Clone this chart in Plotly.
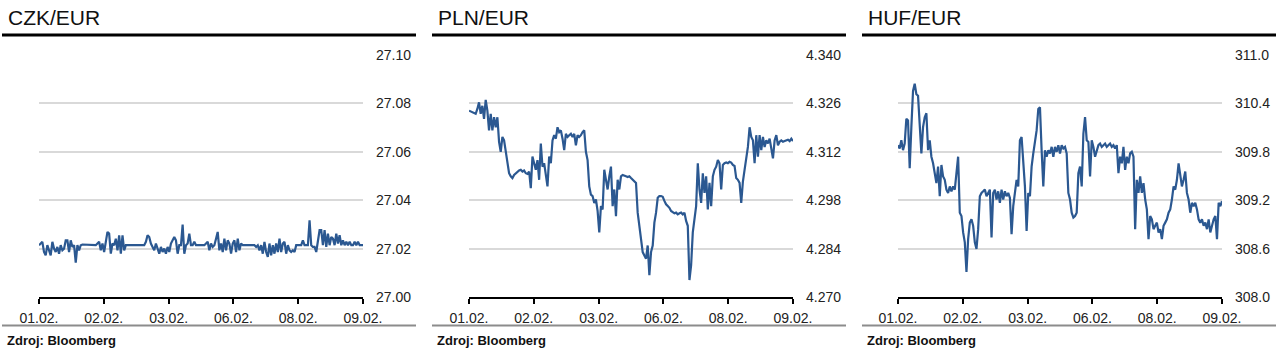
import numpy as np
import plotly.graph_objects as go

# ---------------- data ----------------
date_labels = ["01.02.", "02.02.", "03.02.", "06.02.", "08.02.", "09.02."]

czk_ticks = [27.00, 27.02, 27.04, 27.06, 27.08, 27.10]
czk_ticktext = ["27.00", "27.02", "27.04", "27.06", "27.08", "27.10"]
pln_ticks = [4.270, 4.284, 4.298, 4.312, 4.326, 4.340]
pln_ticktext = ["4.270", "4.284", "4.298", "4.312", "4.326", "4.340"]
huf_ticks = [308.0, 308.6, 309.2, 309.8, 310.4, 311.0]
huf_ticktext = ["308.0", "308.6", "309.2", "309.8", "310.4", "311.0"]

czk_eur = [
    27.0214, 27.0221, 27.0228, 27.0186, 27.0172, 27.0214, 27.0193, 27.0172, 27.0228, 27.0200,
    27.0186, 27.0207, 27.0179, 27.0214, 27.0193, 27.0200, 27.0234, 27.0234, 27.0186, 27.0234,
    27.0207, 27.0214, 27.0142, 27.0214, 27.0193, 27.0214, 27.0217, 27.0217, 27.0217, 27.0217,
    27.0214, 27.0217, 27.0217, 27.0217, 27.0214, 27.0221, 27.0228, 27.0193, 27.0221, 27.0186,
    27.0234, 27.0269, 27.0262, 27.0179, 27.0221, 27.0214, 27.0241, 27.0193, 27.0255, 27.0179,
    27.0255, 27.0193, 27.0214, 27.0214, 27.0217, 27.0214, 27.0217, 27.0214, 27.0214, 27.0214,
    27.0214, 27.0217, 27.0214, 27.0214, 27.0228, 27.0255, 27.0248, 27.0221, 27.0207, 27.0193,
    27.0221, 27.0200, 27.0179, 27.0207, 27.0186, 27.0200, 27.0179, 27.0207, 27.0186, 27.0221,
    27.0234, 27.0248, 27.0234, 27.0179, 27.0214, 27.0214, 27.0299, 27.0179, 27.0214, 27.0221,
    27.0262, 27.0214, 27.0214, 27.0228, 27.0214, 27.0214, 27.0214, 27.0214, 27.0214, 27.0214,
    27.0221, 27.0228, 27.0193, 27.0221, 27.0207, 27.0214, 27.0241, 27.0269, 27.0193, 27.0221,
    27.0186, 27.0241, 27.0193, 27.0234, 27.0221, 27.0179, 27.0221, 27.0234, 27.0186, 27.0241,
    27.0193, 27.0221, 27.0214, 27.0214, 27.0214, 27.0214, 27.0217, 27.0214, 27.0214, 27.0214,
    27.0207, 27.0214, 27.0193, 27.0214, 27.0179, 27.0228, 27.0186, 27.0166, 27.0221, 27.0172,
    27.0214, 27.0179, 27.0221, 27.0186, 27.0241, 27.0186, 27.0221, 27.0228, 27.0179, 27.0214,
    27.0193, 27.0186, 27.0193, 27.0186, 27.0214, 27.0214, 27.0214, 27.0214, 27.0234, 27.0214,
    27.0214, 27.0214, 27.0317, 27.0214, 27.0207, 27.0207, 27.0186, 27.0234, 27.0276, 27.0276,
    27.0214, 27.0276, 27.0207, 27.0262, 27.0214, 27.0248, 27.0241, 27.0214, 27.0262, 27.0221,
    27.0255, 27.0214, 27.0234, 27.0214, 27.0228, 27.0214, 27.0228, 27.0214, 27.0214, 27.0228,
    27.0214, 27.0228, 27.0214, 27.0214, 27.0214,
]

pln_eur = [
    4.3239, 4.3237, 4.3234, 4.3231, 4.3230, 4.3244, 4.3263, 4.3230, 4.3253, 4.3215,
    4.3270, 4.3239, 4.3182, 4.3230, 4.3182, 4.3220, 4.3191, 4.3220, 4.3149, 4.3120,
    4.3163, 4.3153, 4.3120, 4.3091, 4.3058, 4.3049, 4.3044, 4.3053, 4.3058, 4.3063,
    4.3066, 4.3068, 4.3063, 4.3066, 4.3058, 4.3056, 4.3063, 4.3015, 4.3106, 4.3087,
    4.3068, 4.3096, 4.3039, 4.3144, 4.3077, 4.3087, 4.3053, 4.3020, 4.3106, 4.3087,
    4.3153, 4.3168, 4.3158, 4.3191, 4.3177, 4.3182, 4.3158, 4.3125, 4.3172, 4.3163,
    4.3168, 4.3172, 4.3163, 4.3172, 4.3139, 4.3168, 4.3163, 4.3168, 4.3177, 4.3182,
    4.3120, 4.3096, 4.3020, 4.2996, 4.2992, 4.2972, 4.2982, 4.2949, 4.2887, 4.2963,
    4.2953, 4.3068, 4.3039, 4.3011, 4.3049, 4.3077, 4.2963, 4.3011, 4.2934, 4.3039,
    4.3011, 4.3049, 4.3053, 4.3050, 4.3049, 4.3047, 4.3049, 4.3044, 4.3039, 4.3034,
    4.3030, 4.2944, 4.2906, 4.2877, 4.2830, 4.2820, 4.2811, 4.2849, 4.2763, 4.2830,
    4.2849, 4.2915, 4.2944, 4.2987, 4.2992, 4.2992, 4.2990, 4.2978, 4.2968, 4.2963,
    4.2958, 4.2949, 4.2944, 4.2942, 4.2944, 4.2939, 4.2942, 4.2944, 4.2939, 4.2944,
    4.2920, 4.2906, 4.2749, 4.2792, 4.2887, 4.2925, 4.2963, 4.3087, 4.3011, 4.2972,
    4.3058, 4.3001, 4.3049, 4.2953, 4.3030, 4.2963, 4.3049, 4.3068, 4.3077, 4.3096,
    4.3087, 4.3011, 4.3082, 4.3087, 4.3089, 4.3087, 4.3091, 4.3089, 4.3082, 4.3079,
    4.3044, 4.3039, 4.3030, 4.2972, 4.3034, 4.3068, 4.3096, 4.3134, 4.3191, 4.3163,
    4.3153, 4.3087, 4.3168, 4.3106, 4.3168, 4.3125, 4.3163, 4.3134, 4.3153, 4.3144,
    4.3158, 4.3134, 4.3101, 4.3153, 4.3168, 4.3139, 4.3149, 4.3153, 4.3149, 4.3151,
    4.3153, 4.3155, 4.3151, 4.3158, 4.3151,
]

huf_eur = [
    309.882, 309.841, 309.943, 309.820, 309.902, 310.208, 310.188, 309.596, 310.106, 310.555,
    310.645, 310.514, 310.494, 310.106, 309.780, 310.106, 310.229, 310.278, 309.820, 309.943,
    309.739, 309.657, 309.535, 309.412, 309.616, 309.249, 309.637, 309.494, 309.453, 309.331,
    309.290, 309.371, 309.310, 309.371, 309.331, 309.575, 309.739, 309.045, 309.004, 308.800,
    308.677, 308.310, 308.718, 308.922, 308.963, 308.882, 308.677, 308.596, 308.841, 309.249,
    309.290, 309.310, 309.331, 309.249, 309.290, 309.331, 308.739, 309.290, 309.331, 309.208,
    309.310, 309.167, 309.331, 309.208, 309.310, 309.249, 309.290, 309.228, 308.780, 309.126,
    309.290, 309.453, 309.371, 309.943, 309.984, 309.657, 309.371, 308.820, 309.290, 309.249,
    309.616, 309.780, 309.902, 310.065, 310.331, 310.351, 309.820, 309.371, 309.820, 309.739,
    309.820, 309.780, 309.861, 309.739, 309.861, 309.800, 309.882, 309.780, 309.882, 309.841,
    309.861, 309.780, 309.290, 309.208, 309.045, 308.984, 309.004, 309.045, 309.535, 309.616,
    309.371, 310.024, 310.229, 309.943, 309.922, 309.494, 309.943, 309.861, 309.739, 309.820,
    309.882, 309.902, 309.861, 309.882, 309.902, 309.861, 309.882, 309.902, 309.861, 309.882,
    309.841, 309.882, 309.535, 309.739, 309.657, 309.861, 309.575, 309.739, 309.657, 309.780,
    309.800, 309.739, 308.841, 309.453, 309.290, 309.494, 309.290, 309.412, 309.208, 309.086,
    308.718, 309.004, 308.963, 308.841, 308.882, 308.922, 308.800, 308.841, 308.718, 308.882,
    308.922, 308.963, 309.045, 309.086, 309.208, 309.371, 309.331, 309.453, 309.657, 309.494,
    309.371, 309.453, 309.555, 309.290, 309.208, 309.045, 309.167, 309.126, 309.167, 309.086,
    308.963, 308.922, 308.963, 308.882, 308.922, 308.841, 308.963, 308.800, 308.882, 308.963,
    309.004, 308.718, 309.167, 309.126, 309.188,
]

panels = [
    ("CZK/EUR", czk_eur, czk_ticks, czk_ticktext),
    ("PLN/EUR", pln_eur, pln_ticks, pln_ticktext),
    ("HUF/EUR", huf_eur, huf_ticks, huf_ticktext),
]

# ---------------- layout geometry (pixels) ----------------
W, H = 1288, 363
plot_left = [39, 469, 898]
plot_w = 324
panel_left = [2, 432, 862]
panel_w = 414
plot_top, plot_bottom = 55, 297

def px(x):
    return x / W

def py(y):
    return 1 - y / H

LINE_COLOR = "#2b5891"
FONT = "Liberation Sans, Arial, sans-serif"

fig = go.Figure()
shapes = []
annotations = []

for i, (title, values, yt, ytt) in enumerate(panels):
    n = len(values)
    xs = np.arange(n)
    xa = "x" if i == 0 else f"x{i+1}"
    ya = "y" if i == 0 else f"y{i+1}"
    fig.add_trace(go.Scatter(x=xs, y=values, mode="lines",
                             line=dict(color=LINE_COLOR, width=2.2),
                             xaxis=xa, yaxis=ya, hoverinfo="skip",
                             showlegend=False))
    xkey = "xaxis" if i == 0 else f"xaxis{i+1}"
    ykey = "yaxis" if i == 0 else f"yaxis{i+1}"
    tickpos = np.linspace(0, n - 1, len(date_labels))
    fig.layout[xkey] = dict(
        domain=[px(plot_left[i]), px(plot_left[i] + plot_w)],
        range=[0, n - 1], anchor=ya, automargin=False,
        tickmode="array", tickvals=tickpos, ticktext=date_labels,
        ticks="outside", ticklen=5, tickwidth=2, tickcolor="#000",
        showline=True, linecolor="#000", linewidth=2,
        showgrid=False, zeroline=False, fixedrange=True,
        ticklabelstandoff=2,
        tickfont=dict(family=FONT, size=14, color="#222"),
    )
    fig.layout[ykey] = dict(
        domain=[py(plot_bottom), py(plot_top)],
        range=[yt[0], yt[-1]], anchor=xa, side="right", automargin=False,
        tickmode="array", tickvals=yt, ticktext=ytt,
        ticks="", showline=False, zeroline=False,
        showgrid=True, gridcolor="#d9d9d9", gridwidth=2,
        ticklabelstandoff=12, fixedrange=True,
        tickfont=dict(family=FONT, size=14, color="#222"),
    )
    annotations.append(dict(text=title, x=px(panel_left[i] + 4), y=py(17),
                            xref="paper", yref="paper", xanchor="left", yanchor="middle",
                            showarrow=False,
                            font=dict(family=FONT, size=21, color="#111")))
    annotations.append(dict(text="<b>Zdroj: Bloomberg</b>", x=px(panel_left[i] + 3), y=py(340),
                            xref="paper", yref="paper", xanchor="left", yanchor="middle",
                            showarrow=False,
                            font=dict(family=FONT, size=13, color="#111")))
    shapes.append(dict(type="line", xref="paper", yref="paper",
                       x0=px(panel_left[i]), x1=px(panel_left[i] + panel_w),
                       y0=py(35), y1=py(35), line=dict(color="#000", width=3)))
    shapes.append(dict(type="line", xref="paper", yref="paper",
                       x0=px(panel_left[i]), x1=px(panel_left[i] + panel_w),
                       y0=py(325.5), y1=py(325.5), line=dict(color="#8c8c8c", width=2)))

fig.update_layout(
    template="none",
    width=W, height=H,
    margin=dict(l=0, r=0, t=0, b=0, autoexpand=False),
    paper_bgcolor="white", plot_bgcolor="white",
    shapes=shapes, annotations=annotations,
    showlegend=False,
)

fig.write_html("out.html", config={"displayModeBar": False},
               post_script="document.body.style.margin='0';document.body.style.overflow='hidden';")
